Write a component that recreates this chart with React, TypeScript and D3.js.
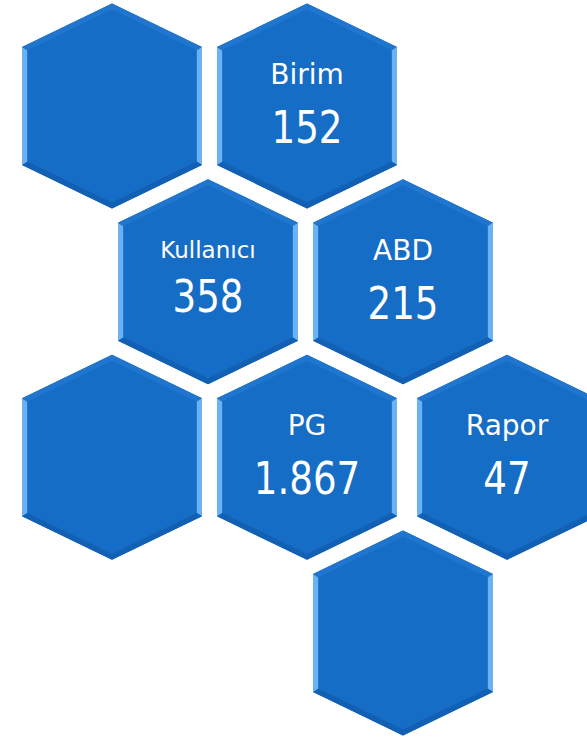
import React, { useEffect, useRef } from 'react';
import * as d3 from 'd3';

// tile texts and counts
const labels = ['Birim', 'Kullanıcı', 'ABD', 'PG', 'Rapor'];
const values = [152, 358, 215, 1867, 47];

// honeycomb grid: [column, row]
const labelCells: [number, number][] = [[2, 0], [1, 1], [3, 1], [2, 2], [4, 2]];
const emptyCells: [number, number][] = [[0, 0], [0, 2], [3, 3]];

const W = 587;
const H = 739;

const App = () => {
  const ref = useRef<SVGSVGElement>(null);

  useEffect(() => {
    const svg = d3.select(ref.current);
    svg.selectAll('*').remove();

    const x = d3.scaleOrdinal<number, number>().domain([0, 1, 2, 3, 4]).range([112, 208, 307, 403, 507]);
    const y = d3.scaleLinear().domain([0, 3]).range([106, 633]);

    const trFmt = d3.formatLocale({ decimal: ',', thousands: '.', grouping: [3], currency: ['', ''] }).format(',d');

    // hexagon shape (pointy top)
    const hw = 90, hh = 102.5, sh = 59;
    const outer: [number, number][] = [[0, -hh], [hw, -sh], [hw, sh], [0, hh], [-hw, sh], [-hw, -sh]];
    const k = 0.94;
    const inner = outer.map(([a, b]) => [a * k, b * k] as [number, number]);
    const faceColors = ['#2076cf', '#6ab2f3', '#1260b4', '#1260b4', '#6ab2f3', '#2076cf'];
    const line = d3.line();

    const cells = [
      ...emptyCells.map(c => ({ c, i: -1 })),
      ...labelCells.map((c, i) => ({ c, i })),
    ];

    const g = svg.selectAll('g.hex')
      .data(cells)
      .enter().append('g')
      .attr('class', 'hex')
      .attr('transform', d => `translate(${x(d.c[0])},${y(d.c[1])})`);

    g.append('path')
      .attr('d', line(outer) + 'Z')
      .attr('fill', '#176dc6');

    outer.forEach((p, j) => {
      const q = outer[(j + 1) % 6];
      const face = [p, q, inner[(j + 1) % 6], inner[j]] as [number, number][];
      g.append('path')
        .attr('d', line(face) + 'Z')
        .attr('fill', faceColors[j]);
    });

    g.append('path')
      .attr('d', line(inner) + 'Z')
      .attr('fill', '#166dc6');

    const lab = g.filter(d => d.i >= 0);
    const small = (i: number) => labels[i].length > 6;

    lab.append('text')
      .attr('text-anchor', 'middle')
      .attr('y', d => (small(d.i) ? -24 : -22))
      .attr('fill', '#fff')
      .attr('font-family', '"DejaVu Sans", sans-serif')
      .attr('font-size', d => (small(d.i) ? 23 : 28))
      .text(d => labels[d.i]);

    // numbers: tall, narrow digits
    lab.append('text')
      .attr('text-anchor', 'middle')
      .attr('transform', d => `translate(0,${small(d.i) ? 30 : 37}) scale(0.92,1)`)
      .attr('fill', '#fff')
      .attr('font-family', '"DejaVu Sans Condensed", "DejaVu Sans", sans-serif')
      .attr('font-size', 45)
      .text(d => trFmt(values[d.i]));
  }, []);

  return (
    <svg ref={ref} width={W} height={H} style={{ position: 'absolute', left: 0, top: 0, background: '#fff' }} />
  );
};

export default App;
